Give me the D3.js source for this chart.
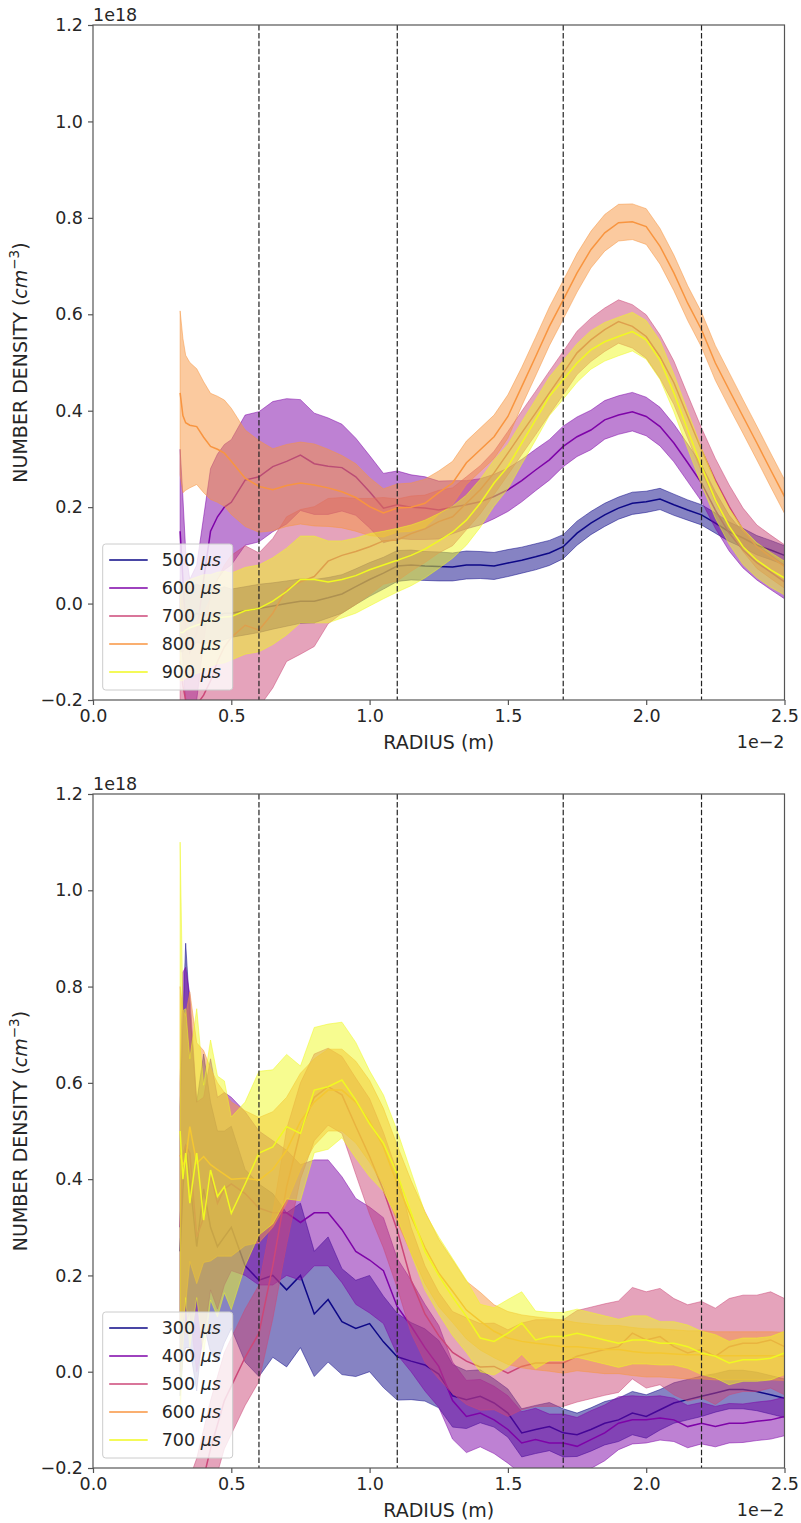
<!DOCTYPE html>
<html>
<head>
<meta charset="utf-8">
<script src="https://cdn.jsdelivr.net/npm/d3@7"></script>
<style>
  body { margin: 0; background: #fff; }
  text { font-family: "DejaVu Sans", sans-serif; fill: #262626; }
</style>
</head>
<body>
<svg width="801" height="1523"></svg>
<script>
// radius grid, in units of 1e-2 m
var radius = [0.315,0.325,0.335,0.35,0.375,0.4,0.425,0.45,0.475,0.5,
  0.55,0.6,0.65,0.7,0.75,0.8,0.85,0.9,0.95,1.0,
  1.05,1.1,1.15,1.2,1.25,1.3,1.35,1.4,1.45,1.5,
  1.55,1.6,1.65,1.7,1.75,1.8,1.85,1.9,1.95,2.0,
  2.05,2.1,2.15,2.2,2.25,2.3,2.35,2.4,2.45,2.5];

var xTicks = [0, 0.5, 1.0, 1.5, 2.0, 2.5];
var yTicks = [-0.2, 0, 0.2, 0.4, 0.6, 0.8, 1.0, 1.2];
var markers = [0.6, 1.1, 1.7, 2.2];

// top panel (units of 1e18 cm^-3)
var topLabels = ["500", "600", "700", "800", "900"];
var topMean = [
  [-0.03,-0.03,-0.025,-0.03,-0.02,-0.025,-0.02,-0.025,-0.02,-0.02,
   -0.015,-0.01,-0.005,0.0,0.005,0.005,0.012,0.02,0.035,0.05,
   0.063,0.078,0.08,0.078,0.077,0.076,0.08,0.08,0.078,0.084,
   0.09,0.097,0.105,0.118,0.146,0.167,0.184,0.198,0.208,0.211,
   0.217,0.205,0.194,0.184,0.167,0.149,0.136,0.121,0.111,0.1],
  [0.15,0.05,-0.05,-0.1,-0.06,0.05,0.15,0.18,0.2,0.21,
   0.256,0.263,0.284,0.295,0.308,0.29,0.285,0.282,0.263,0.232,
   0.198,0.205,0.2,0.198,0.194,0.2,0.205,0.211,0.222,0.236,
   0.255,0.277,0.298,0.326,0.346,0.36,0.381,0.391,0.398,0.388,
   0.367,0.333,0.292,0.25,0.194,0.146,0.111,0.085,0.065,0.045],
  [-0.12,-0.17,-0.2,-0.22,-0.21,-0.19,-0.16,-0.12,-0.09,-0.07,
   -0.045,-0.055,-0.02,0.03,0.045,0.056,0.088,0.1,0.108,0.118,
   0.13,0.132,0.145,0.155,0.17,0.18,0.208,0.236,0.271,0.312,
   0.354,0.395,0.437,0.478,0.52,0.547,0.568,0.585,0.575,0.554,
   0.512,0.458,0.388,0.319,0.256,0.201,0.153,0.118,0.097,0.077],
  [0.437,0.39,0.375,0.37,0.367,0.345,0.326,0.32,0.312,0.295,
   0.26,0.243,0.236,0.245,0.25,0.246,0.24,0.232,0.22,0.201,
   0.188,0.198,0.2,0.208,0.23,0.25,0.292,0.319,0.346,0.388,
   0.45,0.512,0.575,0.63,0.686,0.734,0.769,0.79,0.792,0.782,
   0.741,0.686,0.623,0.568,0.499,0.443,0.388,0.333,0.277,0.222],
  [-0.06,-0.06,-0.055,-0.05,-0.045,-0.04,-0.035,-0.03,-0.028,-0.027,
   -0.015,-0.01,0.005,0.025,0.05,0.05,0.045,0.05,0.058,0.07,
   0.08,0.09,0.1,0.113,0.13,0.148,0.173,0.208,0.25,0.284,
   0.333,0.381,0.43,0.464,0.499,0.526,0.543,0.554,0.564,0.547,
   0.505,0.437,0.36,0.284,0.215,0.16,0.118,0.09,0.07,0.053]
];
var topSpread = [
  [0.07,0.07,0.065,0.065,0.06,0.06,0.06,0.055,0.055,0.05,
   0.05,0.05,0.048,0.047,0.046,0.045,0.042,0.04,0.037,0.035,
   0.033,0.032,0.031,0.03,0.03,0.029,0.029,0.028,0.028,0.028,
   0.027,0.027,0.026,0.025,0.025,0.024,0.024,0.023,0.023,0.022,
   0.022,0.022,0.021,0.021,0.021,0.02,0.02,0.02,0.02,0.02],
  [0.17,0.17,0.16,0.15,0.14,0.13,0.13,0.13,0.13,0.13,
   0.135,0.135,0.135,0.13,0.115,0.105,0.1,0.09,0.08,0.075,
   0.072,0.07,0.067,0.065,0.06,0.055,0.05,0.048,0.046,0.045,
   0.044,0.043,0.042,0.042,0.041,0.041,0.04,0.04,0.04,0.04,
   0.04,0.039,0.039,0.038,0.038,0.037,0.037,0.036,0.036,0.035],
  [0.17,0.17,0.17,0.17,0.17,0.17,0.17,0.17,0.17,0.17,
   0.165,0.16,0.155,0.15,0.15,0.145,0.13,0.12,0.11,0.1,
   0.09,0.085,0.078,0.07,0.065,0.06,0.055,0.05,0.045,0.045,
   0.045,0.045,0.045,0.045,0.045,0.045,0.045,0.045,0.045,0.045,
   0.045,0.045,0.045,0.045,0.045,0.045,0.045,0.045,0.045,0.045],
  [0.17,0.16,0.14,0.13,0.12,0.115,0.11,0.11,0.11,0.11,
   0.1,0.095,0.085,0.085,0.085,0.085,0.08,0.075,0.07,0.06,
   0.05,0.05,0.05,0.05,0.045,0.045,0.045,0.045,0.045,0.045,
   0.04,0.04,0.04,0.04,0.04,0.038,0.038,0.038,0.037,0.037,
   0.037,0.037,0.036,0.036,0.036,0.036,0.035,0.035,0.035,0.035],
  [0.1,0.1,0.1,0.1,0.1,0.1,0.095,0.095,0.095,0.09,
   0.09,0.09,0.09,0.09,0.09,0.09,0.085,0.08,0.078,0.075,
   0.07,0.066,0.063,0.06,0.057,0.054,0.052,0.05,0.048,0.046,
   0.044,0.042,0.04,0.04,0.04,0.04,0.04,0.04,0.04,0.04,
   0.04,0.039,0.039,0.038,0.038,0.037,0.037,0.036,0.036,0.035]
];

// bottom panel
var bottomLabels = ["300", "400", "500", "600", "700"];
var bottomMean = [
  [0.25,0.38,0.47,0.4,0.26,0.38,0.3,0.26,0.28,0.3,
   0.22,0.19,0.2,0.17,0.2,0.12,0.15,0.104,0.09,0.1,
   0.062,0.031,0.022,0.014,-0.005,-0.05,-0.058,-0.051,-0.065,-0.086,
   -0.127,-0.12,-0.114,-0.127,-0.131,-0.12,-0.107,-0.1,-0.086,-0.093,
   -0.079,-0.065,-0.058,-0.051,-0.044,-0.037,-0.037,-0.041,-0.048,-0.055],
  [0.3,0.45,0.47,0.454,0.28,0.32,0.41,0.35,0.38,0.39,
   0.37,0.34,0.33,0.33,0.31,0.33,0.33,0.295,0.25,0.232,
   0.21,0.135,0.095,0.05,0.011,-0.06,-0.093,-0.086,-0.1,-0.12,
   -0.148,-0.141,-0.148,-0.148,-0.155,-0.141,-0.127,-0.107,-0.1,-0.1,
   -0.096,-0.1,-0.114,-0.107,-0.114,-0.107,-0.107,-0.103,-0.1,-0.093],
  [-0.35,-0.35,-0.34,-0.32,-0.28,-0.22,-0.16,-0.11,-0.06,-0.03,
   0.03,0.08,0.22,0.384,0.5,0.57,0.592,0.575,0.51,0.447,
   0.377,0.294,0.19,0.12,0.075,0.04,0.022,0.01,0.011,-0.003,
   0.011,0.018,0.018,0.018,0.032,0.039,0.046,0.052,0.08,0.066,
   0.073,0.052,0.039,0.046,0.032,0.052,0.059,0.059,0.066,0.052],
  [0.45,0.43,0.44,0.509,0.433,0.447,0.43,0.42,0.41,0.4,
   0.402,0.398,0.42,0.46,0.52,0.56,0.585,0.585,0.56,0.52,
   0.467,0.39,0.322,0.258,0.205,0.167,0.128,0.105,0.084,0.07,
   0.063,0.059,0.056,0.052,0.052,0.049,0.046,0.046,0.042,0.039,
   0.039,0.037,0.035,0.035,0.033,0.033,0.033,0.033,0.033,0.032],
  [0.5,0.4,0.454,0.35,0.454,0.315,0.419,0.364,0.384,0.329,
   0.39,0.454,0.467,0.509,0.495,0.585,0.592,0.606,0.564,0.515,
   0.475,0.41,0.33,0.25,0.2,0.155,0.115,0.07,0.063,0.08,
   0.101,0.066,0.073,0.073,0.08,0.073,0.066,0.059,0.066,0.066,
   0.059,0.059,0.052,0.039,0.032,0.018,0.025,0.025,0.028,0.039]
];
var bottomSpread = [
  [0.3,0.35,0.42,0.35,0.3,0.28,0.26,0.24,0.22,0.21,
   0.2,0.2,0.17,0.16,0.15,0.13,0.13,0.11,0.1,0.1,
   0.095,0.09,0.08,0.075,0.07,0.065,0.06,0.055,0.05,0.05,
   0.05,0.05,0.05,0.05,0.045,0.045,0.045,0.045,0.045,0.045,
   0.042,0.042,0.042,0.042,0.04,0.04,0.04,0.04,0.04,0.04],
  [0.3,0.38,0.37,0.33,0.28,0.25,0.24,0.22,0.2,0.18,
   0.17,0.16,0.15,0.13,0.12,0.11,0.11,0.11,0.11,0.11,
   0.11,0.1,0.095,0.09,0.085,0.08,0.075,0.07,0.07,0.07,
   0.065,0.065,0.06,0.06,0.06,0.06,0.058,0.055,0.05,0.048,
   0.046,0.045,0.044,0.043,0.042,0.041,0.04,0.04,0.04,0.04],
  [0.1,0.1,0.1,0.1,0.1,0.1,0.1,0.1,0.1,0.1,
   0.1,0.1,0.11,0.12,0.1,0.09,0.08,0.08,0.1,0.12,
   0.12,0.12,0.11,0.1,0.09,0.085,0.09,0.09,0.09,0.09,
   0.09,0.09,0.09,0.09,0.095,0.095,0.095,0.095,0.095,0.1,
   0.1,0.1,0.1,0.1,0.1,0.1,0.1,0.1,0.1,0.1],
  [0.35,0.32,0.3,0.28,0.25,0.22,0.2,0.18,0.17,0.16,
   0.14,0.13,0.12,0.11,0.1,0.09,0.085,0.085,0.085,0.085,
   0.08,0.08,0.075,0.075,0.07,0.065,0.06,0.06,0.055,0.055,
   0.055,0.055,0.055,0.055,0.05,0.05,0.05,0.05,0.05,0.05,
   0.05,0.05,0.05,0.05,0.05,0.05,0.05,0.05,0.05,0.05],
  [0.6,0.35,0.3,0.3,0.3,0.28,0.27,0.25,0.22,0.2,
   0.17,0.17,0.16,0.15,0.14,0.13,0.13,0.12,0.12,0.11,
   0.1,0.09,0.085,0.08,0.08,0.08,0.075,0.07,0.07,0.07,
   0.065,0.06,0.05,0.05,0.05,0.05,0.05,0.05,0.05,0.05,
   0.045,0.045,0.045,0.045,0.045,0.045,0.045,0.045,0.045,0.045]
];

var svg = d3.select("svg");
var colors = d3.quantize(d3.interpolatePlasma, 5);
var left = 93, right = 784.5;
var fontSize = 17.5;
var labelSize = 19;
var axisColor = "#555";

var x = d3.scaleLinear().domain([0, 2.5]).range([left, right]);
var fmt = d3.format(".1f");
function tickText(v) {
	return fmt(v).replace("-", "\u2212");
}

function drawPanel(id, top, bottom, labels, means, spreads) {
	var y = d3.scaleLinear().domain([-0.2, 1.2]).range([bottom, top]);
	var g = svg.append("g");

	g.append("clipPath").attr("id", id)
		.append("rect")
		.attr("x", left).attr("y", top)
		.attr("width", right - left).attr("height", bottom - top);

	var plot = g.append("g").attr("clip-path", "url(#" + id + ")");

	labels.forEach((lab, i) => {
		var rows = radius.map((r, j) => ({ r: r, m: means[i][j], s: spreads[i][j] }));
		var band = d3.area()
			.x(d => x(d.r))
			.y0(d => y(d.m - d.s))
			.y1(d => y(d.m + d.s));
		var line = d3.line()
			.x(d => x(d.r))
			.y(d => y(d.m));

		plot.append("path")
			.attr("d", band(rows))
			.attr("fill", colors[i])
			.attr("fill-opacity", 0.5)
			.attr("stroke", colors[i])
			.attr("stroke-opacity", 0.5)
			.attr("stroke-width", 1);

		plot.append("path")
			.attr("d", line(rows))
			.attr("fill", "none")
			.attr("stroke", colors[i])
			.attr("stroke-width", 1.5);
	});

	// dashed radius markers
	plot.selectAll(".marker")
		.data(markers)
		.enter().append("line")
		.attr("x1", d => x(d)).attr("x2", d => x(d))
		.attr("y1", top).attr("y2", bottom)
		.attr("stroke", "#222")
		.attr("stroke-width", 1.2)
		.attr("stroke-dasharray", "5.5,2.4");

	// axes
	var xAxis = g.append("g")
		.attr("transform", "translate(0," + bottom + ")")
		.call(d3.axisBottom(x).tickValues(xTicks).tickFormat(tickText).tickSize(5).tickPadding(5));
	var yAxis = g.append("g")
		.attr("transform", "translate(" + left + ",0)")
		.call(d3.axisLeft(y).tickValues(yTicks).tickFormat(tickText).tickSize(5).tickPadding(5));

	[xAxis, yAxis].forEach(a => {
		a.select(".domain").remove();
		a.selectAll("line").attr("stroke", axisColor).attr("stroke-width", 1.2);
		a.selectAll("text")
			.attr("font-size", fontSize)
			.attr("font-family", "DejaVu Sans")
			.attr("fill", "#262626");
	});

	g.append("rect")
		.attr("x", left).attr("y", top)
		.attr("width", right - left).attr("height", bottom - top)
		.attr("fill", "none")
		.attr("stroke", axisColor)
		.attr("stroke-width", 1.2);

	// offset labels
	g.append("text")
		.attr("x", left).attr("y", top - 4)
		.attr("font-size", fontSize)
		.text("1e18");
	g.append("text")
		.attr("x", right).attr("y", bottom + 48)
		.attr("text-anchor", "end")
		.attr("font-size", fontSize)
		.text("1e\u22122");

	g.append("text")
		.attr("x", (left + right) / 2).attr("y", bottom + 49)
		.attr("text-anchor", "middle")
		.attr("font-size", labelSize)
		.text("RADIUS (m)");

	var yl = g.append("text")
		.attr("transform", "translate(26.5," + (top + bottom) / 2 + ") rotate(-90)")
		.attr("text-anchor", "middle")
		.attr("font-size", labelSize);
	yl.append("tspan").text("NUMBER DENSITY (");
	yl.append("tspan").attr("font-style", "italic").text("cm");
	yl.append("tspan").attr("dy", -8).attr("font-size", 13.5).text("\u22123");
	yl.append("tspan").attr("dy", 8).text(")");

	// legend
	var lx = 102.7, ly = bottom - 156, lw = 130, lh = 146;
	var leg = g.append("g");
	leg.append("rect")
		.attr("x", lx).attr("y", ly)
		.attr("width", lw).attr("height", lh)
		.attr("rx", 3)
		.attr("fill", "#fff").attr("fill-opacity", 0.8)
		.attr("stroke", "#ccc").attr("stroke-width", 1);

	labels.forEach((lab, i) => {
		var cy = ly + 16 + i * 28;
		leg.append("line")
			.attr("x1", lx + 6.5).attr("x2", lx + 45)
			.attr("y1", cy).attr("y2", cy)
			.attr("stroke", colors[i])
			.attr("stroke-width", 1.5);
		var t = leg.append("text")
			.attr("x", lx + 59).attr("y", cy + 6.3)
			.attr("font-size", fontSize);
		t.append("tspan").text(lab + " ");
		t.append("tspan").attr("font-style", "italic").text("\u03bcs");
	});
}

drawPanel("clipTop", 25, 700, topLabels, topMean, topSpread);
drawPanel("clipBottom", 794, 1468, bottomLabels, bottomMean, bottomSpread);
</script>
</body>
</html>
